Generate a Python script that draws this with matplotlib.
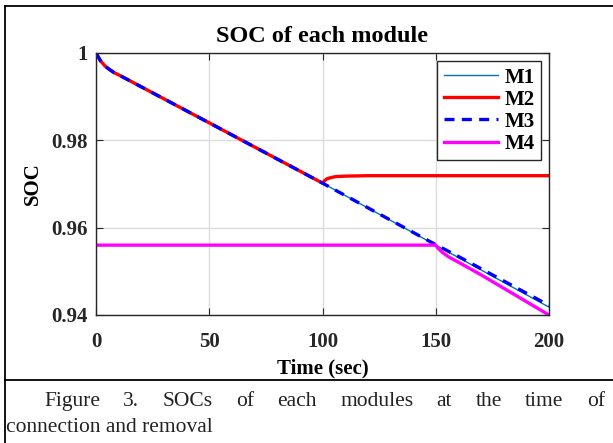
import matplotlib
matplotlib.use("Agg")
import matplotlib.pyplot as plt
from matplotlib.lines import Line2D

plt.rcParams['font.family'] = ['Liberation Serif', 'DejaVu Serif']

# data
t_m1 = [0, 2, 4, 6, 8, 10, 50, 100, 150, 200]
soc_m1 = [1.0, 0.9982, 0.9970, 0.9962, 0.9955, 0.9950, 0.9840, 0.9702, 0.9560, 0.9418]

t_m2 = [0, 2, 4, 6, 8, 10, 50, 100, 101, 102, 104, 106, 110, 120, 200]
soc_m2 = [1.0, 0.9982, 0.9970, 0.9962, 0.9955, 0.9950, 0.9840, 0.9702,
          0.9708, 0.9712, 0.9715, 0.9717, 0.9718, 0.9719, 0.9719]

t_m3 = [0, 2, 4, 6, 8, 10, 50, 100, 150, 160, 200]
soc_m3 = [1.0, 0.9982, 0.9970, 0.9962, 0.9955, 0.9950, 0.9840, 0.9702, 0.9561, 0.9534, 0.9422]

t_m4 = [0, 150, 151, 153, 156, 160, 170, 200]
soc_m4 = [0.956, 0.956, 0.9553, 0.9543, 0.9532, 0.9521, 0.9492, 0.9400]

labels = ["M1", "M2", "M3", "M4"]
x_ticks = [0, 50, 100, 150, 200]
y_ticks = [0.94, 0.96, 0.98, 1.0]
y_tick_labels = ["0.94", "0.96", "0.98", "1"]

W, H = 613, 443
fig = plt.figure(figsize=(W / 100, H / 100), dpi=100)

ax = fig.add_axes([96 / W, 1 - 315 / H, (549 - 96) / W, (315 - 53) / H])
ax.plot(t_m1, soc_m1, color='#0072BD', lw=1.0, label=labels[0])
ax.plot(t_m2, soc_m2, color='#FF0000', lw=2.4, label=labels[1])
ax.plot(t_m3, soc_m3, color='#0000FF', lw=2.4, dashes=(3, 2.2), label=labels[2])
ax.plot(t_m4, soc_m4, color='#FF00FF', lw=2.4, label=labels[3])

ax.set_xlim(0, 200)
ax.set_ylim(0.94, 1.0)
ax.set_xticks(x_ticks)
ax.set_yticks(y_ticks)
ax.set_yticklabels(y_tick_labels)
ax.grid(True, color='#dcdcdc', lw=1.0)
ax.set_axisbelow(True)
ax.tick_params(direction='in', top=True, right=True, length=5, width=0.8,
               colors='#262626', labelsize=15)
ax.tick_params(axis='x', pad=12)
ax.tick_params(axis='y', pad=6)
for lab in ax.get_xticklabels() + ax.get_yticklabels():
    lab.set_fontweight('bold')
for s in ax.spines.values():
    s.set_color('#262626')
    s.set_linewidth(1.0)

ax.set_title("SOC of each module", fontsize=17.5, fontweight='bold', pad=8)
ax.set_xlabel("Time (sec)", fontsize=15, fontweight='bold', labelpad=5)
ax.set_ylabel("SOC", fontsize=15, fontweight='bold', labelpad=6)

leg = ax.legend(loc='upper right', prop={'weight': 'bold', 'size': 15},
                handlelength=2.6, handletextpad=0.3, borderpad=0.3, labelspacing=0.1,
                fancybox=False, framealpha=1, edgecolor='#262626',
                borderaxespad=0.4)
leg.get_frame().set_linewidth(1.0)

# outer table border and caption separator
k = dict(color='black', lw=1.3, transform=fig.transFigure)
fig.add_artist(Line2D([4.5 / W, 1], [1 - 6 / H, 1 - 6 / H], **k))
fig.add_artist(Line2D([4.5 / W, 4.5 / W], [0, 1 - 6 / H], **k))
fig.add_artist(Line2D([4.5 / W, 1], [1 - 380 / H, 1 - 380 / H], **k))

# caption, first line justified
words = ["Figure", "3.", "SOCs", "of", "each", "modules", "at", "the", "time", "of"]
fig.canvas.draw()
r = fig.canvas.get_renderer()
x0, x1 = 44, 605
texts = [fig.text(0, 1 - 406 / H, w, fontsize=15.5, color='#222222') for w in words]
widths = [tx.get_window_extent(r).width for tx in texts]
gap = (x1 - x0 - sum(widths)) / (len(words) - 1)
x = x0
for tx, w in zip(texts, widths):
    tx.set_x(x / W)
    x += w + gap
fig.text(6 / W, 1 - 432 / H, "connection and removal", fontsize=15.5, color='#222222')

fig.savefig("out.png", dpi=100)
